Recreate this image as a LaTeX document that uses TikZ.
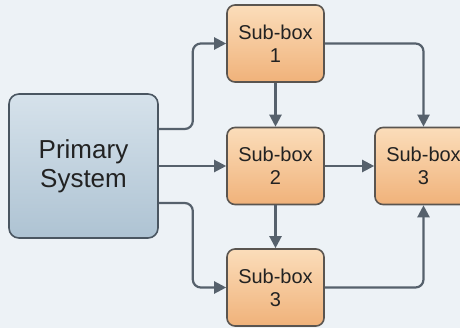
\documentclass[tikz,border=0pt]{standalone}
\usepackage{fontspec}
\setmainfont{Liberation Sans}
\usetikzlibrary{arrows.meta}
\definecolor{bgcol}{HTML}{EDF2F6}
\definecolor{linkcol}{HTML}{56616C}
\definecolor{primtop}{HTML}{D6E2EB}
\definecolor{primbot}{HTML}{AEC3D3}
\definecolor{primedge}{HTML}{4A5661}
\definecolor{subtop}{HTML}{FBDDBA}
\definecolor{subbot}{HTML}{F0B27A}
\definecolor{subedge}{HTML}{5A5550}
\definecolor{txt}{HTML}{222222}
\begin{document}
\begin{tikzpicture}[x=1pt,y=-1pt,
  primary/.style={draw=primedge, line width=1.6pt, rounded corners=10pt,
    top color=primtop, bottom color=primbot, minimum width=149pt,
    minimum height=144pt, inner sep=0pt, align=center, text=txt,
    font=\fontsize{26}{29}\selectfont},
  subbox/.style={draw=subedge, line width=1.6pt, rounded corners=8pt,
    top color=subtop, bottom color=subbot, minimum width=97pt,
    minimum height=77pt, inner sep=0pt, align=center, text=txt,
    font=\fontsize{20}{23}\selectfont},
  link/.style={draw=linkcol, line width=2.2pt, rounded corners=8pt,
    -{Triangle[length=12pt,width=12pt]}}]
  \fill[bgcol] (0,0) rectangle (460,328);
  \useasboundingbox (0,0) rectangle (460,328);

  % boxes
  \node[primary] (P) at (83.5,166) {Primary\\System};
  \node[subbox] (S1) at (275.5,43.5) {Sub-box\\1};
  \node[subbox] (S2) at (275.5,166) {Sub-box\\2};
  \node[subbox] (S3) at (275.5,287.5) {Sub-box\\3};
  \node[subbox] (R)  at (423.5,166) {Sub-box\\3};

  % connectors from the primary system
  \draw[link] ([yshift=37pt]P.east) -- ++(34,0) |- (S1.west);
  \draw[link] (P.east) -- (S2.west);
  \draw[link] ([yshift=-37pt]P.east) -- ++(34,0) |- (S3.west);

  % connectors between sub-boxes
  \draw[link] (S1.south) -- (S2.north);
  \draw[link] (S2.south) -- (S3.north);
  \draw[link] (S2.east) -- (R.west);
  \draw[link] (S1.east) -| (R.north);
  \draw[link] (S3.east) -| (R.south);
\end{tikzpicture}
\end{document}
